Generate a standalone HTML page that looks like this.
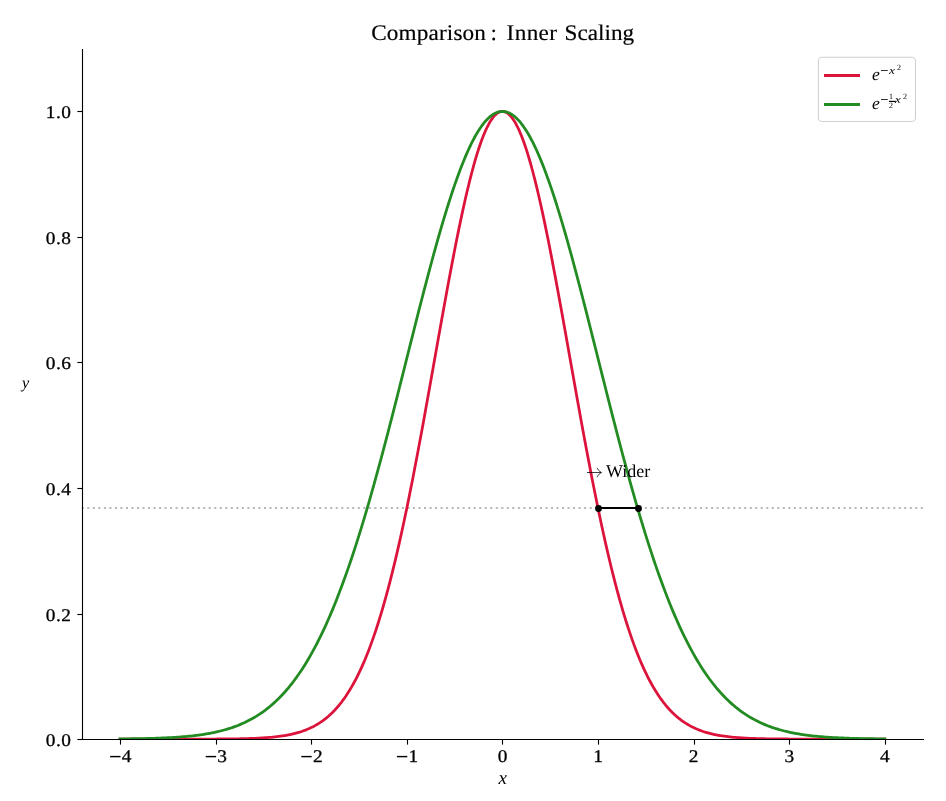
<!DOCTYPE html>
<html><head><meta charset="utf-8"><title>Comparison: Inner Scaling</title>
<style>html,body{margin:0;padding:0;background:#fff;}body{width:946px;height:801px;position:relative;overflow:hidden;font-family:"Liberation Serif",serif;}</style>
</head><body>
<svg width="946" height="801" viewBox="0 0 946 801" style="position:absolute;left:0;top:0;will-change:transform;opacity:0.999;font-family:'Liberation Serif',serif;text-rendering:geometricPrecision">
<rect width="946" height="801" fill="#fff"/>
<defs><clipPath id="ax"><rect x="81.76" y="48.63" width="841.28" height="690.47"/></clipPath></defs>
<line x1="81.76" y1="508" x2="923.04" y2="508" stroke="#808080" stroke-opacity="0.55" stroke-width="2" stroke-dasharray="2.08 3.44"/>
<g clip-path="url(#ax)" fill="none" stroke-width="2.78" stroke-linejoin="round" stroke-linecap="square">
<path d="M120.00,739.10 L121.91,739.10 L123.82,739.10 L125.74,739.10 L127.65,739.10 L129.56,739.10 L131.47,739.10 L133.38,739.10 L135.30,739.10 L137.21,739.10 L139.12,739.10 L141.03,739.10 L142.94,739.10 L144.86,739.10 L146.77,739.10 L148.68,739.10 L150.59,739.10 L152.50,739.10 L154.42,739.10 L156.33,739.10 L158.24,739.10 L160.15,739.10 L162.06,739.10 L163.98,739.10 L165.89,739.10 L167.80,739.10 L169.71,739.10 L171.62,739.10 L173.54,739.10 L175.45,739.09 L177.36,739.09 L179.27,739.09 L181.18,739.09 L183.10,739.09 L185.01,739.09 L186.92,739.09 L188.83,739.09 L190.74,739.08 L192.66,739.08 L194.57,739.08 L196.48,739.08 L198.39,739.07 L200.30,739.07 L202.22,739.07 L204.13,739.06 L206.04,739.06 L207.95,739.05 L209.86,739.05 L211.78,739.04 L213.69,739.03 L215.60,739.02 L217.51,739.01 L219.42,739.00 L221.34,738.99 L223.25,738.98 L225.16,738.96 L227.07,738.94 L228.98,738.92 L230.90,738.90 L232.81,738.88 L234.72,738.85 L236.63,738.82 L238.54,738.79 L240.46,738.76 L242.37,738.72 L244.28,738.67 L246.19,738.62 L248.10,738.57 L250.02,738.51 L251.93,738.44 L253.84,738.37 L255.75,738.29 L257.66,738.21 L259.58,738.11 L261.49,738.00 L263.40,737.89 L265.31,737.76 L267.22,737.62 L269.14,737.47 L271.05,737.30 L272.96,737.12 L274.87,736.92 L276.78,736.71 L278.70,736.47 L280.61,736.21 L282.52,735.94 L284.43,735.63 L286.34,735.30 L288.26,734.94 L290.17,734.56 L292.08,734.14 L293.99,733.68 L295.90,733.19 L297.82,732.66 L299.73,732.09 L301.64,731.47 L303.55,730.80 L305.46,730.09 L307.38,729.32 L309.29,728.49 L311.20,727.60 L313.11,726.65 L315.02,725.63 L316.94,724.54 L318.85,723.37 L320.76,722.12 L322.67,720.79 L324.58,719.36 L326.50,717.85 L328.41,716.23 L330.32,714.52 L332.23,712.69 L334.14,710.75 L336.06,708.70 L337.97,706.52 L339.88,704.21 L341.79,701.78 L343.70,699.20 L345.62,696.47 L347.53,693.60 L349.44,690.58 L351.35,687.39 L353.26,684.04 L355.18,680.52 L357.09,676.82 L359.00,672.94 L360.91,668.88 L362.82,664.63 L364.74,660.18 L366.65,655.53 L368.56,650.68 L370.47,645.63 L372.38,640.36 L374.30,634.88 L376.21,629.19 L378.12,623.28 L380.03,617.14 L381.94,610.79 L383.86,604.21 L385.77,597.41 L387.68,590.38 L389.59,583.13 L391.50,575.66 L393.42,567.96 L395.33,560.05 L397.24,551.92 L399.15,543.58 L401.06,535.03 L402.98,526.28 L404.89,517.33 L406.80,508.18 L408.71,498.85 L410.62,489.35 L412.54,479.68 L414.45,469.84 L416.36,459.86 L418.27,449.74 L420.18,439.50 L422.10,429.13 L424.01,418.67 L425.92,408.12 L427.83,397.49 L429.74,386.81 L431.66,376.08 L433.57,365.32 L435.48,354.55 L437.39,343.79 L439.30,333.06 L441.22,322.36 L443.13,311.72 L445.04,301.17 L446.95,290.71 L448.86,280.37 L450.78,270.17 L452.69,260.12 L454.60,250.25 L456.51,240.57 L458.42,231.11 L460.34,221.88 L462.25,212.91 L464.16,204.21 L466.07,195.80 L467.98,187.70 L469.90,179.93 L471.81,172.50 L473.72,165.43 L475.63,158.73 L477.54,152.43 L479.46,146.53 L481.37,141.06 L483.28,136.01 L485.19,131.41 L487.10,127.27 L489.02,123.58 L490.93,120.37 L492.84,117.65 L494.75,115.40 L496.66,113.66 L498.58,112.40 L500.49,111.65 L502.40,111.40 L504.31,111.65 L506.22,112.40 L508.14,113.66 L510.05,115.40 L511.96,117.65 L513.87,120.37 L515.78,123.58 L517.70,127.27 L519.61,131.41 L521.52,136.01 L523.43,141.06 L525.34,146.53 L527.26,152.43 L529.17,158.73 L531.08,165.43 L532.99,172.50 L534.90,179.93 L536.82,187.70 L538.73,195.80 L540.64,204.21 L542.55,212.91 L544.46,221.88 L546.38,231.11 L548.29,240.57 L550.20,250.25 L552.11,260.12 L554.02,270.17 L555.94,280.37 L557.85,290.71 L559.76,301.17 L561.67,311.72 L563.58,322.36 L565.50,333.06 L567.41,343.79 L569.32,354.55 L571.23,365.32 L573.14,376.08 L575.06,386.81 L576.97,397.49 L578.88,408.12 L580.79,418.67 L582.70,429.13 L584.62,439.50 L586.53,449.74 L588.44,459.86 L590.35,469.84 L592.26,479.68 L594.18,489.35 L596.09,498.85 L598.00,508.18 L599.91,517.33 L601.82,526.28 L603.74,535.03 L605.65,543.58 L607.56,551.92 L609.47,560.05 L611.38,567.96 L613.30,575.66 L615.21,583.13 L617.12,590.38 L619.03,597.41 L620.94,604.21 L622.86,610.79 L624.77,617.14 L626.68,623.28 L628.59,629.19 L630.50,634.88 L632.42,640.36 L634.33,645.63 L636.24,650.68 L638.15,655.53 L640.06,660.18 L641.98,664.63 L643.89,668.88 L645.80,672.94 L647.71,676.82 L649.62,680.52 L651.54,684.04 L653.45,687.39 L655.36,690.58 L657.27,693.60 L659.18,696.47 L661.10,699.20 L663.01,701.78 L664.92,704.21 L666.83,706.52 L668.74,708.70 L670.66,710.75 L672.57,712.69 L674.48,714.52 L676.39,716.23 L678.30,717.85 L680.22,719.36 L682.13,720.79 L684.04,722.12 L685.95,723.37 L687.86,724.54 L689.78,725.63 L691.69,726.65 L693.60,727.60 L695.51,728.49 L697.42,729.32 L699.34,730.09 L701.25,730.80 L703.16,731.47 L705.07,732.09 L706.98,732.66 L708.90,733.19 L710.81,733.68 L712.72,734.14 L714.63,734.56 L716.54,734.94 L718.46,735.30 L720.37,735.63 L722.28,735.94 L724.19,736.21 L726.10,736.47 L728.02,736.71 L729.93,736.92 L731.84,737.12 L733.75,737.30 L735.66,737.47 L737.58,737.62 L739.49,737.76 L741.40,737.89 L743.31,738.00 L745.22,738.11 L747.14,738.21 L749.05,738.29 L750.96,738.37 L752.87,738.44 L754.78,738.51 L756.70,738.57 L758.61,738.62 L760.52,738.67 L762.43,738.72 L764.34,738.76 L766.26,738.79 L768.17,738.82 L770.08,738.85 L771.99,738.88 L773.90,738.90 L775.82,738.92 L777.73,738.94 L779.64,738.96 L781.55,738.98 L783.46,738.99 L785.38,739.00 L787.29,739.01 L789.20,739.02 L791.11,739.03 L793.02,739.04 L794.94,739.05 L796.85,739.05 L798.76,739.06 L800.67,739.06 L802.58,739.07 L804.50,739.07 L806.41,739.07 L808.32,739.08 L810.23,739.08 L812.14,739.08 L814.06,739.08 L815.97,739.09 L817.88,739.09 L819.79,739.09 L821.70,739.09 L823.62,739.09 L825.53,739.09 L827.44,739.09 L829.35,739.09 L831.26,739.10 L833.18,739.10 L835.09,739.10 L837.00,739.10 L838.91,739.10 L840.82,739.10 L842.74,739.10 L844.65,739.10 L846.56,739.10 L848.47,739.10 L850.38,739.10 L852.30,739.10 L854.21,739.10 L856.12,739.10 L858.03,739.10 L859.94,739.10 L861.86,739.10 L863.77,739.10 L865.68,739.10 L867.59,739.10 L869.50,739.10 L871.42,739.10 L873.33,739.10 L875.24,739.10 L877.15,739.10 L879.06,739.10 L880.98,739.10 L882.89,739.10 L884.80,739.10" stroke="#dc143c"/>
<path d="M120.00,738.89 L121.91,738.87 L123.82,738.85 L125.74,738.83 L127.65,738.81 L129.56,738.79 L131.47,738.76 L133.38,738.73 L135.30,738.71 L137.21,738.67 L139.12,738.64 L141.03,738.60 L142.94,738.57 L144.86,738.52 L146.77,738.48 L148.68,738.43 L150.59,738.38 L152.50,738.33 L154.42,738.27 L156.33,738.20 L158.24,738.14 L160.15,738.07 L162.06,737.99 L163.98,737.91 L165.89,737.82 L167.80,737.73 L169.71,737.63 L171.62,737.52 L173.54,737.41 L175.45,737.29 L177.36,737.16 L179.27,737.03 L181.18,736.88 L183.10,736.73 L185.01,736.56 L186.92,736.39 L188.83,736.21 L190.74,736.01 L192.66,735.80 L194.57,735.58 L196.48,735.35 L198.39,735.10 L200.30,734.84 L202.22,734.56 L204.13,734.27 L206.04,733.96 L207.95,733.63 L209.86,733.29 L211.78,732.92 L213.69,732.53 L215.60,732.13 L217.51,731.70 L219.42,731.24 L221.34,730.77 L223.25,730.26 L225.16,729.73 L227.07,729.18 L228.98,728.59 L230.90,727.97 L232.81,727.33 L234.72,726.65 L236.63,725.93 L238.54,725.18 L240.46,724.39 L242.37,723.57 L244.28,722.70 L246.19,721.80 L248.10,720.85 L250.02,719.85 L251.93,718.82 L253.84,717.73 L255.75,716.59 L257.66,715.41 L259.58,714.17 L261.49,712.87 L263.40,711.52 L265.31,710.11 L267.22,708.64 L269.14,707.12 L271.05,705.52 L272.96,703.86 L274.87,702.14 L276.78,700.34 L278.70,698.48 L280.61,696.54 L282.52,694.53 L284.43,692.44 L286.34,690.27 L288.26,688.03 L290.17,685.70 L292.08,683.28 L293.99,680.78 L295.90,678.20 L297.82,675.52 L299.73,672.76 L301.64,669.90 L303.55,666.94 L305.46,663.89 L307.38,660.74 L309.29,657.50 L311.20,654.15 L313.11,650.70 L315.02,647.15 L316.94,643.49 L318.85,639.73 L320.76,635.86 L322.67,631.88 L324.58,627.80 L326.50,623.60 L328.41,619.30 L330.32,614.88 L332.23,610.35 L334.14,605.71 L336.06,600.96 L337.97,596.10 L339.88,591.12 L341.79,586.04 L343.70,580.84 L345.62,575.53 L347.53,570.11 L349.44,564.58 L351.35,558.94 L353.26,553.19 L355.18,547.34 L357.09,541.38 L359.00,535.32 L360.91,529.15 L362.82,522.89 L364.74,516.53 L366.65,510.07 L368.56,503.52 L370.47,496.88 L372.38,490.15 L374.30,483.33 L376.21,476.44 L378.12,469.47 L380.03,462.42 L381.94,455.30 L383.86,448.12 L385.77,440.87 L387.68,433.57 L389.59,426.21 L391.50,418.80 L393.42,411.35 L395.33,403.85 L397.24,396.33 L399.15,388.77 L401.06,381.20 L402.98,373.60 L404.89,365.99 L406.80,358.38 L408.71,350.77 L410.62,343.16 L412.54,335.57 L414.45,327.99 L416.36,320.44 L418.27,312.92 L420.18,305.44 L422.10,298.00 L424.01,290.62 L425.92,283.30 L427.83,276.04 L429.74,268.85 L431.66,261.74 L433.57,254.72 L435.48,247.80 L437.39,240.97 L439.30,234.25 L441.22,227.64 L443.13,221.16 L445.04,214.80 L446.95,208.58 L448.86,202.49 L450.78,196.56 L452.69,190.78 L454.60,185.16 L456.51,179.70 L458.42,174.42 L460.34,169.31 L462.25,164.39 L464.16,159.66 L466.07,155.12 L467.98,150.79 L469.90,146.65 L471.81,142.73 L473.72,139.02 L475.63,135.53 L477.54,132.26 L479.46,129.22 L481.37,126.41 L483.28,123.83 L485.19,121.49 L487.10,119.38 L489.02,117.52 L490.93,115.90 L492.84,114.53 L494.75,113.41 L496.66,112.53 L498.58,111.90 L500.49,111.53 L502.40,111.40 L504.31,111.53 L506.22,111.90 L508.14,112.53 L510.05,113.41 L511.96,114.53 L513.87,115.90 L515.78,117.52 L517.70,119.38 L519.61,121.49 L521.52,123.83 L523.43,126.41 L525.34,129.22 L527.26,132.26 L529.17,135.53 L531.08,139.02 L532.99,142.73 L534.90,146.65 L536.82,150.79 L538.73,155.12 L540.64,159.66 L542.55,164.39 L544.46,169.31 L546.38,174.42 L548.29,179.70 L550.20,185.16 L552.11,190.78 L554.02,196.56 L555.94,202.49 L557.85,208.58 L559.76,214.80 L561.67,221.16 L563.58,227.64 L565.50,234.25 L567.41,240.97 L569.32,247.80 L571.23,254.72 L573.14,261.74 L575.06,268.85 L576.97,276.04 L578.88,283.30 L580.79,290.62 L582.70,298.00 L584.62,305.44 L586.53,312.92 L588.44,320.44 L590.35,327.99 L592.26,335.57 L594.18,343.16 L596.09,350.77 L598.00,358.38 L599.91,365.99 L601.82,373.60 L603.74,381.20 L605.65,388.77 L607.56,396.33 L609.47,403.85 L611.38,411.35 L613.30,418.80 L615.21,426.21 L617.12,433.57 L619.03,440.87 L620.94,448.12 L622.86,455.30 L624.77,462.42 L626.68,469.47 L628.59,476.44 L630.50,483.33 L632.42,490.15 L634.33,496.88 L636.24,503.52 L638.15,510.07 L640.06,516.53 L641.98,522.89 L643.89,529.15 L645.80,535.32 L647.71,541.38 L649.62,547.34 L651.54,553.19 L653.45,558.94 L655.36,564.58 L657.27,570.11 L659.18,575.53 L661.10,580.84 L663.01,586.04 L664.92,591.12 L666.83,596.10 L668.74,600.96 L670.66,605.71 L672.57,610.35 L674.48,614.88 L676.39,619.30 L678.30,623.60 L680.22,627.80 L682.13,631.88 L684.04,635.86 L685.95,639.73 L687.86,643.49 L689.78,647.15 L691.69,650.70 L693.60,654.15 L695.51,657.50 L697.42,660.74 L699.34,663.89 L701.25,666.94 L703.16,669.90 L705.07,672.76 L706.98,675.52 L708.90,678.20 L710.81,680.78 L712.72,683.28 L714.63,685.70 L716.54,688.03 L718.46,690.27 L720.37,692.44 L722.28,694.53 L724.19,696.54 L726.10,698.48 L728.02,700.34 L729.93,702.14 L731.84,703.86 L733.75,705.52 L735.66,707.12 L737.58,708.64 L739.49,710.11 L741.40,711.52 L743.31,712.87 L745.22,714.17 L747.14,715.41 L749.05,716.59 L750.96,717.73 L752.87,718.82 L754.78,719.85 L756.70,720.85 L758.61,721.80 L760.52,722.70 L762.43,723.57 L764.34,724.39 L766.26,725.18 L768.17,725.93 L770.08,726.65 L771.99,727.33 L773.90,727.97 L775.82,728.59 L777.73,729.18 L779.64,729.73 L781.55,730.26 L783.46,730.77 L785.38,731.24 L787.29,731.70 L789.20,732.13 L791.11,732.53 L793.02,732.92 L794.94,733.29 L796.85,733.63 L798.76,733.96 L800.67,734.27 L802.58,734.56 L804.50,734.84 L806.41,735.10 L808.32,735.35 L810.23,735.58 L812.14,735.80 L814.06,736.01 L815.97,736.21 L817.88,736.39 L819.79,736.56 L821.70,736.73 L823.62,736.88 L825.53,737.03 L827.44,737.16 L829.35,737.29 L831.26,737.41 L833.18,737.52 L835.09,737.63 L837.00,737.73 L838.91,737.82 L840.82,737.91 L842.74,737.99 L844.65,738.07 L846.56,738.14 L848.47,738.20 L850.38,738.27 L852.30,738.33 L854.21,738.38 L856.12,738.43 L858.03,738.48 L859.94,738.52 L861.86,738.57 L863.77,738.60 L865.68,738.64 L867.59,738.67 L869.50,738.71 L871.42,738.73 L873.33,738.76 L875.24,738.79 L877.15,738.81 L879.06,738.83 L880.98,738.85 L882.89,738.87 L884.80,738.89" stroke="#228b22"/>
</g>
<line x1="598.5" y1="508" x2="638.5" y2="508" stroke="#000" stroke-width="2.08"/>
<circle cx="598.5" cy="508.5" r="3.42" fill="#000"/><circle cx="638.5" cy="508.5" r="3.42" fill="#000"/>
<path d="M82.5,48.95 V740.05 M81.95,739.5 H924.05" fill="none" stroke="#000" stroke-width="1.11"/>
<g stroke="#000" stroke-width="0.3" stroke-linejoin="round">
<line x1="120.5" y1="739.5" x2="120.5" y2="744.6" stroke="#000" stroke-width="1.11"/>
<line x1="110.1" y1="756.6" x2="120.5" y2="756.6" stroke="#000" stroke-width="1.45"/>
<text transform="translate(126.6,762.0) scale(1.08,1)" font-size="17.9" text-anchor="middle">4</text>
<line x1="216.5" y1="739.5" x2="216.5" y2="744.6" stroke="#000" stroke-width="1.11"/>
<line x1="205.7" y1="756.6" x2="216.1" y2="756.6" stroke="#000" stroke-width="1.45"/>
<text transform="translate(222.2,762.0) scale(1.08,1)" font-size="17.9" text-anchor="middle">3</text>
<line x1="311.5" y1="739.5" x2="311.5" y2="744.6" stroke="#000" stroke-width="1.11"/>
<line x1="301.3" y1="756.6" x2="311.7" y2="756.6" stroke="#000" stroke-width="1.45"/>
<text transform="translate(317.8,762.0) scale(1.08,1)" font-size="17.9" text-anchor="middle">2</text>
<line x1="407.5" y1="739.5" x2="407.5" y2="744.6" stroke="#000" stroke-width="1.11"/>
<line x1="396.9" y1="756.6" x2="407.3" y2="756.6" stroke="#000" stroke-width="1.45"/>
<text transform="translate(413.4,762.0) scale(1.08,1)" font-size="17.9" text-anchor="middle">1</text>
<line x1="502.5" y1="739.5" x2="502.5" y2="744.6" stroke="#000" stroke-width="1.11"/>
<text transform="translate(502.5,762.0) scale(1.08,1)" font-size="17.9" text-anchor="middle">0</text>
<line x1="598.5" y1="739.5" x2="598.5" y2="744.6" stroke="#000" stroke-width="1.11"/>
<text transform="translate(598.1,762.0) scale(1.08,1)" font-size="17.9" text-anchor="middle">1</text>
<line x1="694.5" y1="739.5" x2="694.5" y2="744.6" stroke="#000" stroke-width="1.11"/>
<text transform="translate(693.7,762.0) scale(1.08,1)" font-size="17.9" text-anchor="middle">2</text>
<line x1="789.5" y1="739.5" x2="789.5" y2="744.6" stroke="#000" stroke-width="1.11"/>
<text transform="translate(789.3,762.0) scale(1.08,1)" font-size="17.9" text-anchor="middle">3</text>
<line x1="885.5" y1="739.5" x2="885.5" y2="744.6" stroke="#000" stroke-width="1.11"/>
<text transform="translate(884.9,762.0) scale(1.08,1)" font-size="17.9" text-anchor="middle">4</text>
<line x1="77.4" y1="739.5" x2="82.5" y2="739.5" stroke="#000" stroke-width="1.11"/>
<text transform="translate(71.5,746.0) scale(1.08,1)" font-size="17.9" text-anchor="end" letter-spacing="0.5">0.0</text>
<line x1="77.4" y1="614.5" x2="82.5" y2="614.5" stroke="#000" stroke-width="1.11"/>
<text transform="translate(71.5,621.0) scale(1.08,1)" font-size="17.9" text-anchor="end" letter-spacing="0.5">0.2</text>
<line x1="77.4" y1="488.5" x2="82.5" y2="488.5" stroke="#000" stroke-width="1.11"/>
<text transform="translate(71.5,495.0) scale(1.08,1)" font-size="17.9" text-anchor="end" letter-spacing="0.5">0.4</text>
<line x1="77.4" y1="362.5" x2="82.5" y2="362.5" stroke="#000" stroke-width="1.11"/>
<text transform="translate(71.5,369.0) scale(1.08,1)" font-size="17.9" text-anchor="end" letter-spacing="0.5">0.6</text>
<line x1="77.4" y1="237.5" x2="82.5" y2="237.5" stroke="#000" stroke-width="1.11"/>
<text transform="translate(71.5,244.0) scale(1.08,1)" font-size="17.9" text-anchor="end" letter-spacing="0.5">0.8</text>
<line x1="77.4" y1="111.5" x2="82.5" y2="111.5" stroke="#000" stroke-width="1.11"/>
<text transform="translate(71.5,118.0) scale(1.08,1)" font-size="17.9" text-anchor="end" letter-spacing="0.5">1.0</text>
</g>
<text x="502.8" y="784" font-size="19" font-style="italic" text-anchor="middle">x</text>
<text x="25.6" y="388" font-size="16.2" font-style="italic" text-anchor="middle">y</text>
<g stroke="#000" stroke-width="0.18" stroke-linejoin="round">
<text transform="translate(371.2,40.4) scale(1.04,1)" font-size="22.3" letter-spacing="0.15">Comparison</text>
<text transform="translate(490.6,40.4) scale(1.04,1)" font-size="22.3">:</text>
<text transform="translate(506.6,40.4) scale(1.04,1)" font-size="22.3" letter-spacing="0.35">Inner</text>
<text transform="translate(564.6,40.4) scale(1.04,1)" font-size="22.3">Scaling</text>
</g>
<path d="M587,472.5 H601.2" fill="none" stroke="#000" stroke-width="0.75"/>
<path d="M597.2,468.2 Q598.5,471.4 601.6,472.5 Q598.5,473.6 597.2,476.8" fill="none" stroke="#000" stroke-width="0.7" stroke-linecap="round"/>
<text x="606.0" y="476.8" font-size="18">Wider</text>
<rect x="818.4" y="57.3" width="97.1" height="64.2" rx="3.8" fill="#fff" fill-opacity="0.8" stroke="#ccc" stroke-opacity="0.9" stroke-width="1.11"/>
<rect x="824" y="74" width="36" height="3" fill="#dc143c"/>
<rect x="824" y="103" width="36" height="3" fill="#228b22"/>
<text x="872.0" y="79.8" font-size="17.6" font-style="italic">e</text>
<line x1="881" y1="70.5" x2="887.8" y2="70.5" stroke="#000" stroke-width="0.8"/>
<text transform="translate(888.9,73.8) scale(1.17,0.97)" font-size="11.5" font-style="italic">x</text>
<text x="897.1" y="69.6" font-size="8.0">2</text>
<text x="872.0" y="108.6" font-size="17.6" font-style="italic">e</text>
<line x1="881" y1="99.5" x2="887.8" y2="99.5" stroke="#000" stroke-width="0.8"/>
<text x="891" y="98.7" font-size="8.0" text-anchor="middle">1</text>
<line x1="889" y1="101.4" x2="895.8" y2="101.4" stroke="#000" stroke-width="1.2"/>
<text x="891" y="107.8" font-size="8.0" text-anchor="middle">2</text>
<text transform="translate(894.8,102.9) scale(1.17,0.97)" font-size="11.5" font-style="italic">x</text>
<text x="903" y="98.7" font-size="8.0">2</text>
</svg>
</body></html>
